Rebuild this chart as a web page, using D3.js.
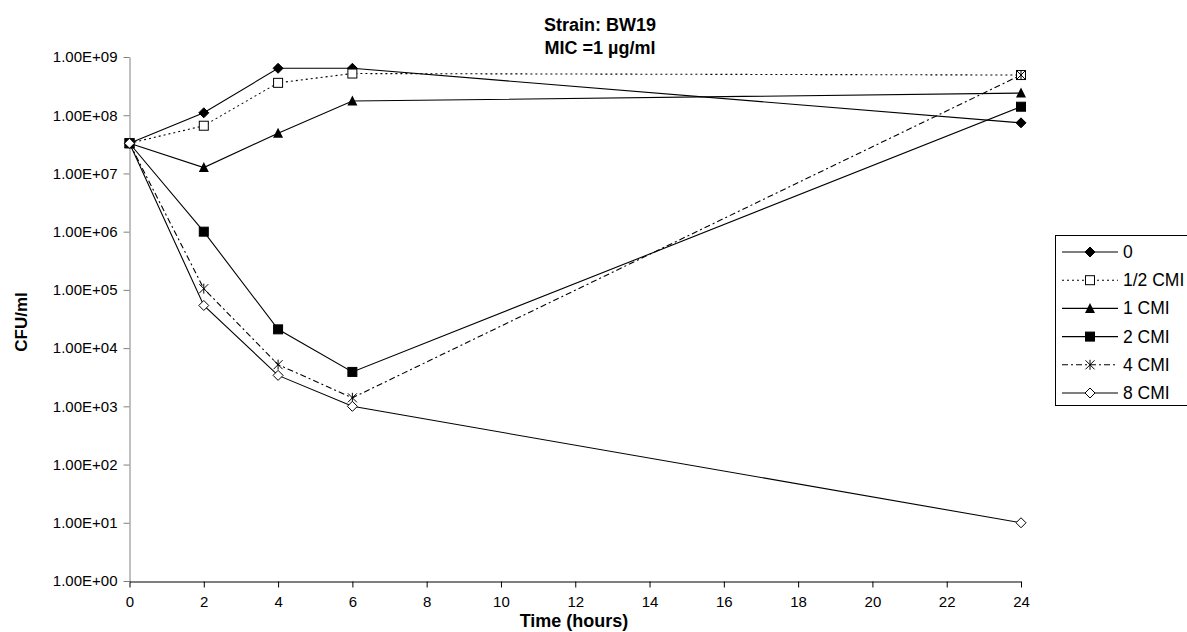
<!DOCTYPE html>
<html><head><meta charset="utf-8">
<script src="https://cdn.jsdelivr.net/npm/d3@7"></script>
<style>body{margin:0;background:#fff}text{font-family:"Liberation Sans",Arial,sans-serif}</style>
</head><body><svg id="c" width="1187" height="632"></svg>
<script>
const hours = [0, 2, 4, 6, 24];
const xTicks = [0,2,4,6,8,10,12,14,16,18,20,22,24];
const yTickLabels = ["1.00E+00","1.00E+01","1.00E+02","1.00E+03","1.00E+04","1.00E+05","1.00E+06","1.00E+07","1.00E+08","1.00E+09"];
const seriesNames = ["0","1/2 CMI","1 CMI","2 CMI","4 CMI","8 CMI"];
const s0    = [3.3e7, 1.1e8, 6.4e8, 6.4e8, 7.4e7];
const sHalf = [3.3e7, 6.6e7, 3.6e8, 5.2e8, 4.9e8];
const s1    = [3.3e7, 1.26e7, 4.9e7, 1.75e8, 2.4e8];
const s2    = [3.3e7, 1.0e6, 2.1e4, 3.9e3, 1.4e8];
const s4    = [3.3e7, 1.05e5, 5.2e3, 1.4e3, 4.9e8];
const s8    = [3.3e7, 5.4e4, 3.4e3, 1.0e3, 1.0e1];
const seriesValues = [s0, sHalf, s1, s2, s4, s8];
const dashes = [null, "2,3", null, null, "6,3,2,3", null];
const markers = ["diamondFill","squareOpen","triangle","squareFill","star","diamondOpen"];

const svg = d3.select("#c");
const x = d3.scaleLinear().domain([0,24]).range([129.5,1021]);
const y = d3.scaleLog().domain([1,1e9]).range([581,57]);
const FF = "'Liberation Sans',Arial,sans-serif";

// title
svg.append("text").attr("x",600).attr("y",31).attr("text-anchor","middle").attr("font-size",18).attr("font-weight","bold").text("Strain: BW19");
svg.append("text").attr("x",600).attr("y",54).attr("text-anchor","middle").attr("font-size",18).attr("font-weight","bold").text("MIC =1 µg/ml");

// y axis
const yVals = yTickLabels.map(Number);
const ya = svg.append("g").attr("transform","translate(129.5,0)")
  .call(d3.axisLeft(y).tickValues(yVals).tickSize(6).tickSizeOuter(0).tickPadding(6).tickFormat((d,i)=>yTickLabels[i]));
ya.select(".domain").attr("stroke","#808080");
ya.selectAll(".tick line").attr("stroke","#808080");
ya.selectAll("text").attr("font-size",15).attr("fill","#000").style("font-family",FF);

// x axis
const xa = svg.append("g").attr("transform","translate(0,581.5)")
  .call(d3.axisBottom(x).tickValues(xTicks).tickSize(6).tickSizeOuter(0).tickPadding(9));
xa.select(".domain").attr("stroke","#000");
xa.selectAll("text").attr("font-size",15).attr("fill","#000").style("font-family",FF);

svg.append("text").attr("x",574).attr("y",627).attr("text-anchor","middle").attr("font-size",18).attr("font-weight","bold").text("Time (hours)");
svg.append("text").attr("transform","translate(27,322) rotate(-90)").attr("text-anchor","middle").attr("font-size",17).attr("font-weight","bold").text("CFU/ml");

function drawMarker(g, type, cx, cy){
  const s = 4.5;
  if(type==="diamondFill"||type==="diamondOpen"){
    g.append("path").attr("d",`M${cx},${cy-s-0.5}L${cx+s+0.5},${cy}L${cx},${cy+s+0.5}L${cx-s-0.5},${cy}Z`)
      .attr("fill",type==="diamondFill"?"#000":"#fff").attr("stroke","#000").attr("stroke-width",1);
  } else if(type==="squareOpen"||type==="squareFill"){
    g.append("rect").attr("x",cx-s).attr("y",cy-s).attr("width",2*s).attr("height",2*s)
      .attr("fill",type==="squareFill"?"#000":"#fff").attr("stroke","#000").attr("stroke-width",1);
  } else if(type==="triangle"){
    g.append("path").attr("d",`M${cx},${cy-s-1}L${cx+s+0.5},${cy+s}L${cx-s-0.5},${cy+s}Z`).attr("fill","#000");
  } else if(type==="star"){
    const r=4.5;
    g.append("path").attr("d",`M${cx-r},${cy-r}L${cx+r},${cy+r}M${cx-r},${cy+r}L${cx+r},${cy-r}M${cx},${cy-r-0.5}L${cx},${cy+r+0.5}`)
      .attr("stroke","#000").attr("stroke-width",1).attr("fill","none");
  }
}

const line = d3.line().x((d,i)=>x(hours[i])).y(d=>y(d));
seriesValues.forEach((vals,k)=>{
  svg.append("path").attr("d",line(vals)).attr("fill","none").attr("stroke","#000").attr("stroke-width",1.1)
    .attr("stroke-dasharray",dashes[k]);
});
seriesValues.forEach((vals,k)=>{
  const g = svg.append("g");
  vals.forEach((v,i)=>drawMarker(g, markers[k], x(hours[i]), y(v)));
});

// legend
const lg = svg.append("g");
lg.append("rect").attr("x",1055.5).attr("y",235.5).attr("width",140).attr("height",170).attr("fill","#fff").attr("stroke","#000").attr("stroke-width",1);
const legY = d3.scalePoint().domain(seriesNames).range([252,393]);
seriesNames.forEach((n,k)=>{
  const yy = legY(n);
  lg.append("line").attr("x1",1062).attr("x2",1118).attr("y1",yy).attr("y2",yy).attr("stroke","#000").attr("stroke-width",1.1).attr("stroke-dasharray",dashes[k]);
  drawMarker(lg, markers[k], 1090, yy);
  lg.append("text").attr("x",1123).attr("y",yy+6).attr("font-size",17.5).text(n);
});
</script></body></html>
